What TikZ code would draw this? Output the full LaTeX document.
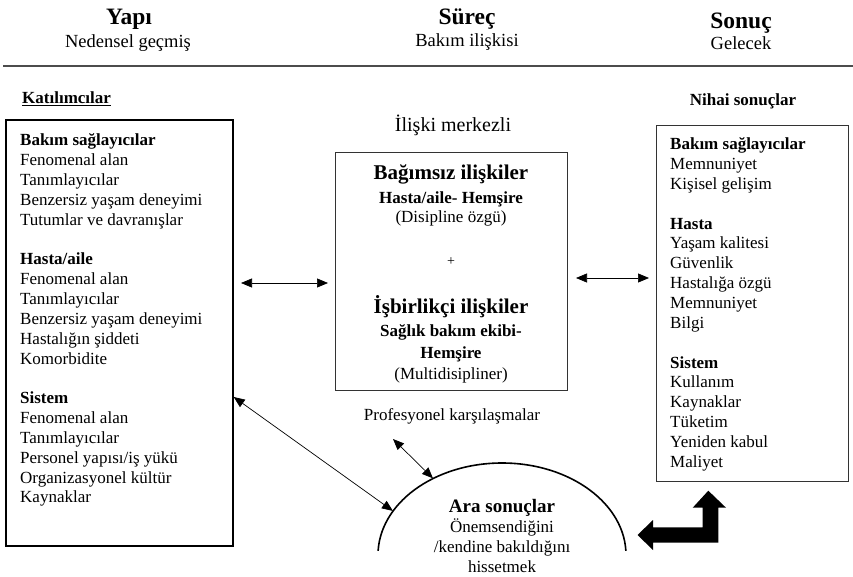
\documentclass[tikz,border=0pt]{standalone}
\usepackage{fontspec}
\setmainfont{Liberation Serif}
\usetikzlibrary{arrows.meta,shapes.geometric}
\begin{document}
\begin{tikzpicture}[x=1pt,y=-1pt,
  body/.style={font=\fontsize{17}{19.85}\selectfont, inner sep=0pt},
  big/.style={font=\fontsize{21}{24}\selectfont\bfseries, inner sep=0pt},
  ttl/.style={font=\fontsize{23.5}{26}\selectfont\bfseries, inner sep=0pt},
  sub/.style={font=\fontsize{18.5}{20}\selectfont, inner sep=0pt},
  dbl/.style={{Triangle[length=11pt,width=9pt]}-{Triangle[length=11pt,width=9pt]}, line width=0.7pt},
  boxline/.style={draw=black!80, line width=0.9pt}]
\useasboundingbox (0,0) rectangle (853,577);

% headers
\node[ttl, anchor=base] (h1) at (129,25) {Yapı};
\node[sub, anchor=base] (h1s) at (128,48) {Nedensel geçmiş};
\node[ttl, anchor=base] (h2) at (467,25) {Süreç};
\node[sub, anchor=base] (h2s) at (467,47) {Bakım ilişkisi};
\node[ttl, anchor=base] (h3) at (741,29) {Sonuç};
\node[sub, anchor=base] (h3s) at (741,50) {Gelecek};
\coordinate (r1) at (3,66);
\coordinate (r2) at (853,66);
\draw[line width=1.4pt, black!70] (r1) -- (r2);

\node[body, font=\fontsize{17}{20}\selectfont\bfseries, anchor=base west] (kat) at (22,104) {\underline{Katılımcılar}};
\node[body, font=\fontsize{17}{20}\selectfont\bfseries, anchor=base] (nih) at (743,106) {Nihai sonuçlar};
\node[body, font=\fontsize{20}{22}\selectfont, anchor=base] (ilm) at (453,132) {İlişki merkezli};

% left box
\node[draw, line width=1.7pt, minimum width=227pt, minimum height=426pt, anchor=north west, inner sep=0pt] (L) at (5,119) {};
\node[body, anchor=north west, align=left] (Lt) at (20,133.5) {%
\textbf{Bakım sağlayıcılar}\\Fenomenal alan\\Tanımlayıcılar\\Benzersiz yaşam deneyimi\\Tutumlar ve davranışlar\\[19.85pt]%
\textbf{Hasta/aile}\\Fenomenal alan\\Tanımlayıcılar\\Benzersiz yaşam deneyimi\\Hastalığın şiddeti\\Komorbidite\\[19.85pt]%
\textbf{Sistem}\\Fenomenal alan\\Tanımlayıcılar\\Personel yapısı/iş yükü\\Organizasyonel kültür\\Kaynaklar};

% center box
\node[boxline, minimum width=232pt, minimum height=238pt, anchor=north west, inner sep=0pt] (C) at (335,152) {};
\node[big, anchor=base] (c1) at (451,180) {Bağımsız ilişkiler};
\node[body, font=\fontsize{17}{20}\selectfont\bfseries, anchor=base] (c2) at (451,204) {Hasta/aile- Hemşire};
\node[body, anchor=base] (c3) at (451,223) {(Disipline özgü)};
\node[body, font=\fontsize{14}{16}\selectfont, anchor=base] (c4) at (451,265) {+};
\node[big, anchor=base] (c5) at (451,313) {İşbirlikçi ilişkiler};
\node[body, font=\fontsize{17}{20}\selectfont\bfseries, anchor=base] (c6) at (451,336) {Sağlık bakım ekibi-};
\node[body, font=\fontsize{17}{20}\selectfont\bfseries, anchor=base] (c7) at (451,358) {Hemşire};
\node[body, anchor=base] (c8) at (451,379) {(Multidisipliner)};

\node[body, anchor=base] (prof) at (452,420) {Profesyonel karşılaşmalar};

% right box
\node[boxline, minimum width=192pt, minimum height=356pt, anchor=north west, inner sep=0pt] (R) at (656,125) {};
\node[body, anchor=north west, align=left] (Rt) at (670,137.5) {%
\textbf{Bakım sağlayıcılar}\\Memnuniyet\\Kişisel gelişim\\[19.85pt]%
\textbf{Hasta}\\Yaşam kalitesi\\Güvenlik\\Hastalığa özgü\\Memnuniyet\\Bilgi\\[19.85pt]%
\textbf{Sistem}\\Kullanım\\Kaynaklar\\Tüketim\\Yeniden kabul\\Maliyet};

% ellipse (clipped at bottom)
\node[ellipse, minimum width=248pt, minimum height=184pt, inner sep=0pt] (E) at (502,555) {};
\begin{scope}
\clip (0,0) rectangle (853,550.5);
\draw[line width=1.6pt] (E.center) ellipse [x radius=124pt, y radius=92pt];
\end{scope}
\node[body, font=\fontsize{19}{20}\selectfont\bfseries, anchor=base] (e1) at (502,512) {Ara sonuçlar};
\node[body, anchor=base] (e2) at (502,532) {Önemsendiğini};
\node[body, anchor=base] (e3) at (502,552) {/kendine bakıldığını};
\node[body, anchor=base] (e4) at (502,572) {hissetmek};

% connectors
\coordinate (a1) at (241,283);
\coordinate (a2) at (328,283);
\draw[dbl] (a1) -- (a2);
\coordinate (b1) at (576,278);
\coordinate (b2) at (649,278);
\draw[dbl] (b1) -- (b2);
\draw[dbl] (L.east |- 0,397) -- (E.158);
\coordinate (p1) at (393,439);
\draw[dbl] (p1) -- (E.132);

% bent block arrow
\fill[black] (637.5,535) -- (653,520) -- (653,527.3) -- (702.7,527.3) -- (702.7,507.7) -- (692.7,507.7)
  -- (708.3,490.7) -- (726,507.7) -- (718.3,507.7) -- (718.3,542.7) -- (653,542.7) -- (653,550) -- cycle;
\end{tikzpicture}
\end{document}
